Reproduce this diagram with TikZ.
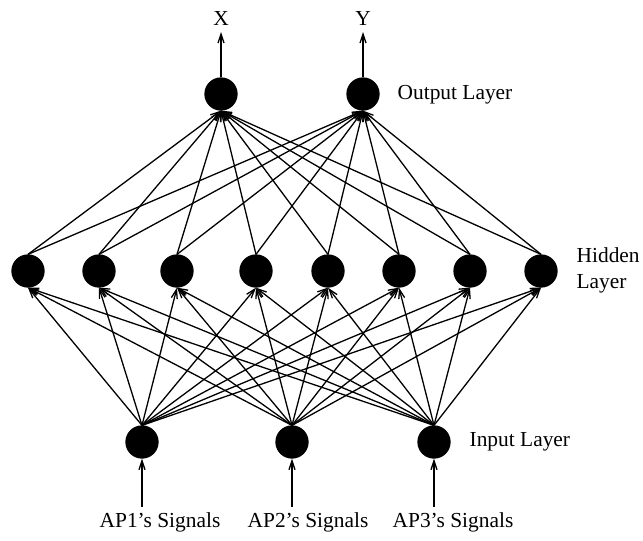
\documentclass[tikz,border=0pt]{standalone}
\usepackage{fontspec}
\setmainfont{Liberation Serif}
\usetikzlibrary{arrows.meta}

\begin{document}
\begin{tikzpicture}[x=0.5pt,y=-0.5pt,
            every path/.style={line width=0.65pt},
            neuron/.style={draw,circle,fill=black,minimum size=16pt,inner sep=0pt},
            wire/.style={-{Straight Barb[length=4.5pt,width=3pt]}},
            lbl/.style={font=\fontsize{10.7}{13}\selectfont,inner sep=0pt}
            ]
            \useasboundingbox (0,0) rectangle (643,541);
            % output layer
            \node[neuron] (o1) at (221,94) {};
            \node[neuron] (o2) at (363,94) {};
            % hidden layer
            \node[neuron] (h1) at (28,271) {};
            \node[neuron] (h2) at (99,271) {};
            \node[neuron] (h3) at (177,271) {};
            \node[neuron] (h4) at (256,271) {};
            \node[neuron] (h5) at (328,271) {};
            \node[neuron] (h6) at (399,271) {};
            \node[neuron] (h7) at (470,271) {};
            \node[neuron] (h8) at (541,271) {};
            % input layer
            \node[neuron] (i1) at (142,442) {};
            \node[neuron] (i2) at (292,442) {};
            \node[neuron] (i3) at (434,442) {};
            % layer names
            \node[lbl,anchor=west] (ol) at (397,95) {Output Layer};
            \node[lbl,anchor=west,align=left] (hl) at (576,270) {Hidden\\Layer};
            \node[lbl,anchor=west] (il) at (469,442) {Input Layer};
            % outputs
            \node[lbl] (x) at (221,18) {X};
            \node[lbl] (y) at (363,18) {Y};
            \coordinate (xo) at (221,32);
            \coordinate (yo) at (363,32);
            \draw[wire] (o1.north) -- (xo);
            \draw[wire] (o2.north) -- (yo);
            % signals
            \coordinate (s1) at (142,507);
            \coordinate (s2) at (292,507);
            \coordinate (s3) at (434,507);
            \node[lbl] (ap1) at (160,522) {AP1's Signals};
            \node[lbl] (ap2) at (308,522) {AP2's Signals};
            \node[lbl] (ap3) at (453,522) {AP3's Signals};
            \draw[wire] (s1) -- (i1.south);
            \draw[wire] (s2) -- (i2.south);
            \draw[wire] (s3) -- (i3.south);
            % weights
            \foreach \h in {1,...,8} {
                \foreach \i in {1,2,3}
                    \draw[wire] (i\i.north) -- (h\h.south);
                \foreach \o in {1,2}
                    \draw[wire] (h\h.north) -- (o\o.south);
            }
        \end{tikzpicture}
\end{document}
